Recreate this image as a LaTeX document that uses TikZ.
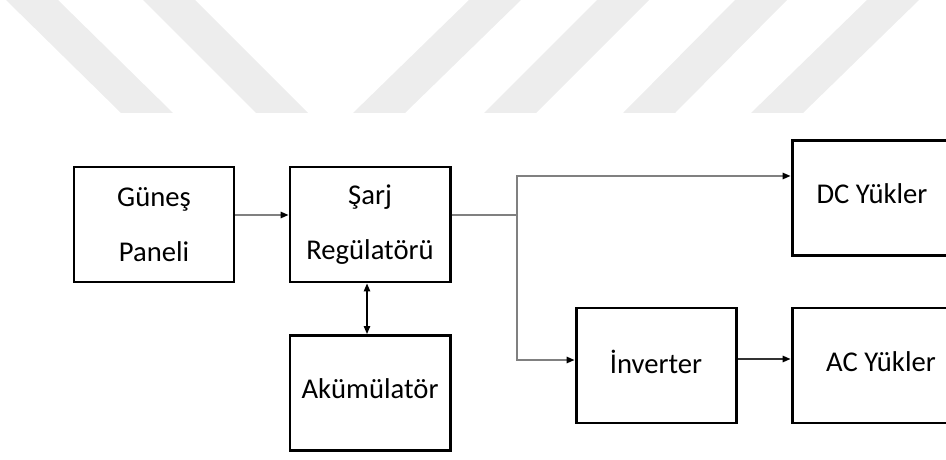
\documentclass[tikz,border=0pt]{standalone}
\usepackage{fontspec}
\setmainfont{Carlito}
\usetikzlibrary{arrows.meta}
\begin{document}
\begin{tikzpicture}[
  blk/.style={draw, line width=1.7pt, minimum width=3.2cm, minimum height=2.3cm,
    inner sep=0pt, align=center, font=\fontsize{16.3}{31.3}\selectfont},
  one/.style={text depth=0.16cm},
  ln/.style={draw=black!50, line width=0.85pt},
  tip/.style={-{Triangle[length=1.6mm,width=1.3mm,color=black]}},
  wm/.style={fill=black!7}
]
\useasboundingbox (0,0) rectangle (18.92,9.18);
\clip (0,0) rectangle (18.92,9.18);

% background stripes
\foreach \a/\b in {0.12/2.42, 2.86/5.12, 9.38/7.06, 11.94/9.68, 14.70/12.46, 17.34/15.02}
  \fill[wm] (\a,9.18) -- ++(1.04,0) -- (\b+1.04,6.92) -- (\b,6.92) -- cycle;

\node[blk] (gp) at (3.08,4.69) {Güneş\\Paneli};
\node[blk] (sr) at (7.40,4.69) {Şarj\\Regülatörü};
\node[blk,one] (ak) at (7.40,1.32) {Akümülatör};
\node[blk,one] (inv) at (13.12,1.87) {İnverter};
\node[blk,one] (dc) at (17.44,5.22) {DC Yükler};
\node[blk,one, minimum width=3.56cm] (ac) at (17.62,1.87) {AC Yükler};
\coordinate (sp) at (10.34,4.88);

% connectors
\draw[ln,tip] ([yshift=0.19cm]gp.east) -- ([yshift=0.19cm]sr.west);
\draw[ln] ([yshift=0.19cm]sr.east) -- (sp);
\draw[ln,tip] (sp) |- ([yshift=0.44cm]dc.west);
\draw[ln,tip] (sp) |- ([yshift=0.11cm]inv.west);
\draw[ln,draw=black!80,tip] ([yshift=0.13cm]inv.east) -- ([yshift=0.13cm]ac.west);
\draw[black, line width=0.7pt, {Triangle[length=1.6mm,width=1.3mm]}-{Triangle[length=1.6mm,width=1.3mm]}]
  ([xshift=-0.06cm]sr.south) -- ([xshift=-0.06cm]ak.north);
\end{tikzpicture}
\end{document}
